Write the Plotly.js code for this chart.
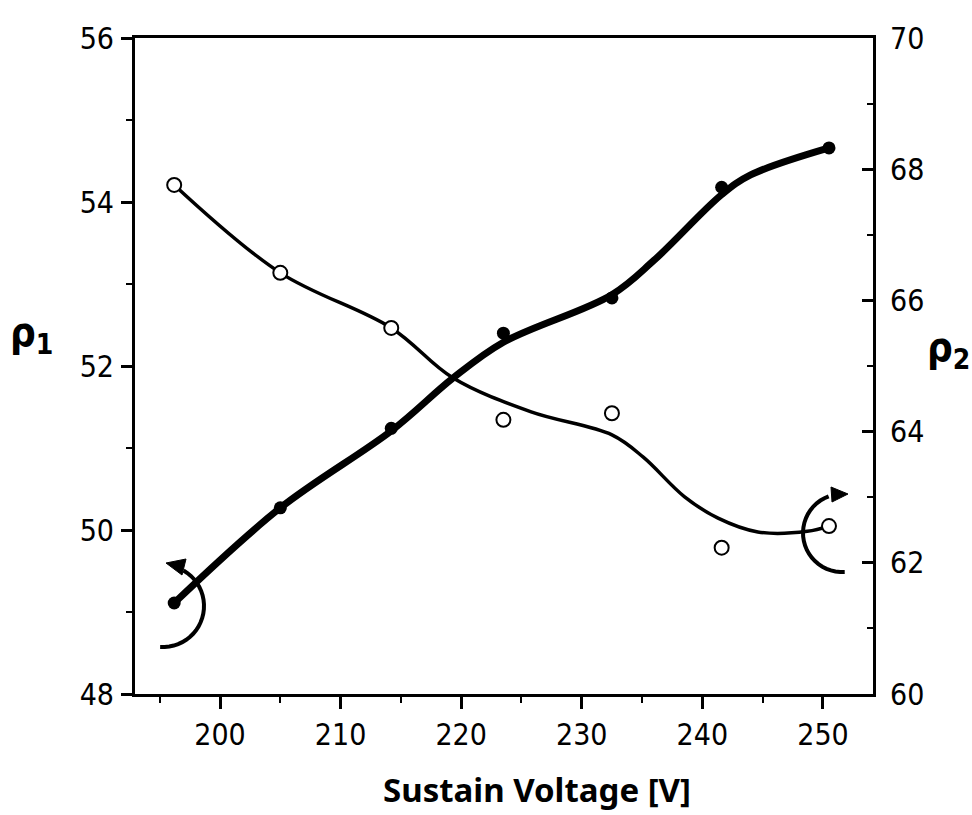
<!DOCTYPE html>
<html>
<head>
<meta charset="utf-8">
<script src="https://cdn.plot.ly/plotly-3.0.1.min.js"></script>
<style>html,body{margin:0;padding:0;background:#fff;}#chart{width:972px;height:815px;}
svg text{font-stretch:condensed !important;}</style>
</head>
<body>
<div id="chart"></div>
<script>
// Measured data points
const voltage = [196.2, 205.0, 214.2, 223.5, 232.5, 241.6, 250.5];
const rho1 = [49.11, 50.27, 51.24, 52.40, 52.83, 54.18, 54.66];
const rho2 = [67.76, 66.42, 65.58, 64.18, 64.28, 62.23, 62.56];

// Fitted (hand-drawn) curves
const fitVoltage1 = [196.2, 205.0, 214.3, 219.3, 223.5, 232.5, 236.0, 241.6, 244.0, 250.5];
const fitRho1 = [49.11, 50.27, 51.22, 51.85, 52.29, 52.87, 53.29, 54.09, 54.33, 54.66];
const fitVoltage2 = [196.2, 205.0, 214.2, 219.3, 225.8, 232.5, 235.1, 238.5, 241.3, 244.6, 248.7, 250.5];
const fitRho2 = [67.76, 66.42, 65.58, 64.82, 64.30, 63.95, 63.61, 63.01, 62.68, 62.47, 62.48, 62.56];

const xTicks = [200, 210, 220, 230, 240, 250];
const y1Ticks = [48, 50, 52, 54, 56];
const y2Ticks = [60, 62, 64, 66, 68, 70];

const W = 972, H = 815;
const M = {l: 135, r: 99, t: 38, b: 121};
const XR = [192.95, 254.15], Y1R = [48, 56], Y2R = [60, 70];
const PW = W - M.l - M.r, PH = H - M.t - M.b;
const FONT_A = "'DejaVu Sans', sans-serif";
const FONT_B = "'Noto Sans', sans-serif";

function pxX(px) { return XR[0] + (px - M.l) / PW * (XR[1] - XR[0]); }
function pxY(py) { return Y1R[1] - (py - M.t) / PH * (Y1R[1] - Y1R[0]); }

// decorative curved arrows (in pixel space, converted to data coords)
function arcPath(cx, cy, r, a0, a1, n) {
  let d = '';
  for (let i = 0; i <= n; i++) {
    const a = (a0 + (a1 - a0) * i / n) * Math.PI / 180;
    const px = cx + r * Math.cos(a), py = cy + r * Math.sin(a);
    d += (i === 0 ? 'M' : ' L') + pxX(px).toFixed(4) + ',' + pxY(py).toFixed(4);
  }
  return d;
}
function triPath(pts) {
  return 'M' + pts.map(p => pxX(p[0]).toFixed(4) + ',' + pxY(p[1]).toFixed(4)).join(' L') + ' Z';
}

const shapes = [
  {type: 'path', xref: 'x', yref: 'y', path: arcPath(163, 606, 41, 94, -60, 24), line: {color: '#000', width: 4}},
  {type: 'path', xref: 'x', yref: 'y', path: triPath([[166, 563], [186, 559], [182, 575]]), fillcolor: '#000', line: {color: '#000', width: 1}},
  {type: 'path', xref: 'x', yref: 'y', path: arcPath(842, 533, 39, 86, 250, 24), line: {color: '#000', width: 4}},
  {type: 'path', xref: 'x', yref: 'y', path: triPath([[848, 494], [831, 487], [832, 502]]), fillcolor: '#000', line: {color: '#000', width: 1}}
];

const traces = [
  {x: fitVoltage2, y: fitRho2, yaxis: 'y2', mode: 'lines', line: {color: '#000', width: 3.5, shape: 'spline'}, hoverinfo: 'skip'},
  {x: fitVoltage1, y: fitRho1, yaxis: 'y', mode: 'lines', line: {color: '#000', width: 7, shape: 'spline'}, hoverinfo: 'skip'},
  {x: voltage, y: rho1, yaxis: 'y', mode: 'markers', marker: {symbol: 'circle', size: 13, color: '#000'}},
  {x: voltage, y: rho2, yaxis: 'y2', mode: 'markers', marker: {symbol: 'circle', size: 14, color: '#fff', line: {color: '#000', width: 2}}}
];

const tickFont = {family: FONT_A, size: 30, color: '#000'};

const layout = {
  width: W, height: H,
  margin: M,
  paper_bgcolor: '#fff', plot_bgcolor: '#fff',
  showlegend: false,
  font: {family: FONT_A, color: '#000'},
  xaxis: {
    range: XR, tickvals: xTicks, ticktext: xTicks.map(String),
    ticks: 'outside', ticklen: 12, tickwidth: 3, tickcolor: '#000',
    minor: {tickvals: [195, 205, 215, 225, 235, 245], ticks: 'outside', ticklen: 6, tickwidth: 2, tickcolor: '#000'},
    showline: true, linewidth: 3, linecolor: '#000', mirror: true,
    showgrid: false, zeroline: false, tickfont: tickFont, ticklabelstandoff: 0
  },
  yaxis: {
    range: Y1R, tickvals: y1Ticks, ticktext: y1Ticks.map(String),
    ticks: 'outside', ticklen: 11, tickwidth: 3, tickcolor: '#000',
    minor: {tickvals: [49, 51, 53, 55], ticks: 'outside', ticklen: 6, tickwidth: 2, tickcolor: '#000'},
    showline: true, linewidth: 3, linecolor: '#000',
    showgrid: false, zeroline: false, tickfont: tickFont, ticklabelstandoff: 1
  },
  yaxis2: {
    range: Y2R, tickvals: y2Ticks, ticktext: y2Ticks.map(String), overlaying: 'y', side: 'right',
    ticks: 'inside', ticklen: 11, tickwidth: 3, tickcolor: '#000',
    minor: {tickvals: [61, 63, 65, 67, 69], ticks: 'inside', ticklen: 6, tickwidth: 2, tickcolor: '#000'},
    showline: true, linewidth: 3, linecolor: '#000',
    showgrid: false, zeroline: false, tickfont: tickFont, ticklabelstandoff: 8
  },
  shapes: shapes,
  annotations: [
    {text: '<b>Sustain Voltage [V]</b>', xref: 'paper', yref: 'paper', x: (537 - M.l) / PW, y: -(789 - M.t - PH) / PH,
     xanchor: 'center', yanchor: 'middle', showarrow: false, font: {family: FONT_B, size: 33, color: '#000'}},
    {text: '<b>ρ<sub>1</sub></b>', xref: 'paper', yref: 'paper', x: (32 - M.l) / PW, y: 1 - (335 - M.t) / PH,
     xanchor: 'center', yanchor: 'middle', showarrow: false, font: {family: FONT_A, size: 40, color: '#000'}},
    {text: '<b>ρ<sub>2</sub></b>', xref: 'paper', yref: 'paper', x: (948 - M.l) / PW, y: 1 - (350 - M.t) / PH,
     xanchor: 'center', yanchor: 'middle', showarrow: false, font: {family: FONT_A, size: 40, color: '#000'}}
  ]
};

Plotly.newPlot('chart', traces, layout, {staticPlot: true, displayModeBar: false});
</script>
</body>
</html>
